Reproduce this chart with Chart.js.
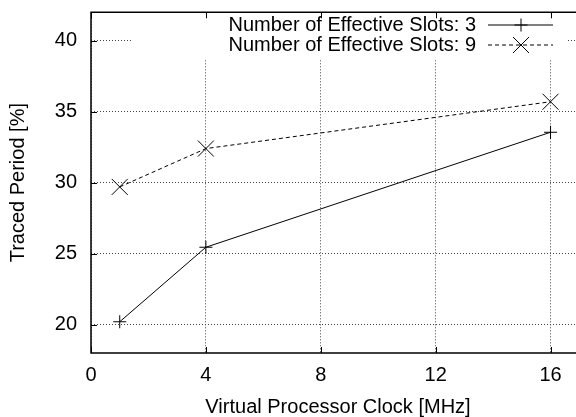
<!DOCTYPE html>
<html>
<head>
<meta charset="utf-8">
<script src="https://cdn.jsdelivr.net/npm/chart.js@4.4.0/dist/chart.umd.min.js"></script>
<style>
  html, body { margin: 0; padding: 0; background: #fff; overflow: hidden; }
  #wrap { width: 600px; height: 417px; }
</style>
</head>
<body>
<div id="wrap"><canvas id="traceChart" width="600" height="417" style="width:600px;height:417px"></canvas></div>
<script>
// values
var clocks = [1, 4, 16];
var slots3 = [20.2, 25.45, 33.55];
var slots9 = [29.7, 32.4, 35.7];
var seriesLabels = ['Number of Effective Slots: 3', 'Number of Effective Slots: 9'];
var xTicks = [0, 4, 8, 12, 16];
var yTicks = [20, 25, 30, 35, 40];

var FONT = '"Liberation Sans", Arial, sans-serif';

function pts(ys) {
    return clocks.map(function (x, i) { return { x: x, y: ys[i] }; });
}

function drawMarker(ctx, style, x, y) {
    ctx.save();
    ctx.strokeStyle = '#000';
    ctx.lineWidth = 1;
    ctx.setLineDash([]);
    ctx.beginPath();
    if (style === 'cross') {
        ctx.moveTo(x - 6.5, y); ctx.lineTo(x + 6.5, y);
        ctx.moveTo(x, y - 6.5); ctx.lineTo(x, y + 6.5);
    } else {
        ctx.moveTo(x - 8, y - 8); ctx.lineTo(x + 8, y + 8);
        ctx.moveTo(x - 8, y + 8); ctx.lineTo(x + 8, y - 8);
    }
    ctx.stroke();
    ctx.restore();
}

// gnuplot-like key box, frame and inward ticks
var framePlugin = {
    id: 'frame',
    afterDraw: function (chart) {
        var ctx = chart.ctx;
        var a = chart.chartArea;
        var xs = chart.scales.x, ys = chart.scales.y;
        ctx.save();

        // key background covers the grid
        ctx.fillStyle = '#fff';
        ctx.fillRect(132, a.top + 1, 434, 46);

        ctx.font = '20px ' + FONT;
        ctx.fillStyle = '#000';
        ctx.textAlign = 'right';
        ctx.textBaseline = 'middle';
        var rows = [25, 45];
        var styles = ['cross', 'crossRot'];
        var dashes = [[], [4, 3]];
        chart.data.datasets.forEach(function (ds, i) {
            ctx.fillText(ds.label, 476, rows[i]);
            ctx.strokeStyle = '#000';
            ctx.lineWidth = 1;
            ctx.setLineDash(dashes[i]);
            ctx.beginPath();
            ctx.moveTo(488, rows[i]);
            ctx.lineTo(553, rows[i]);
            ctx.stroke();
            drawMarker(ctx, styles[i], 521, rows[i]);
        });
        ctx.setLineDash([]);

        ctx.strokeStyle = '#000';
        ctx.lineWidth = 1;
        ctx.beginPath();
        xs.ticks.forEach(function (t) {
            var px = Math.round(xs.getPixelForValue(t.value)) + 0.5;
            ctx.moveTo(px, a.bottom); ctx.lineTo(px, a.bottom - 6);
            ctx.moveTo(px, a.top); ctx.lineTo(px, a.top + 6);
        });
        ys.ticks.forEach(function (t) {
            var py = Math.round(ys.getPixelForValue(t.value)) + 0.5;
            ctx.moveTo(a.left, py); ctx.lineTo(a.left + 6, py);
        });
        ctx.stroke();

        // frame: the right edge lies outside the picture
        ctx.lineWidth = 1.5;
        ctx.beginPath();
        ctx.moveTo(chart.width, a.top);
        ctx.lineTo(a.left, a.top);
        ctx.lineTo(a.left, a.bottom);
        ctx.lineTo(chart.width, a.bottom);
        ctx.stroke();
        ctx.restore();
    }
};

var ctx = document.getElementById('traceChart').getContext('2d');
new Chart(ctx, {
    type: 'scatter',
    data: {
        datasets: [{
            label: seriesLabels[0],
            data: pts(slots3),
            showLine: true,
            borderColor: '#000',
            borderWidth: 1,
            pointStyle: 'cross',
            pointRadius: 6.5,
            pointBorderWidth: 1,
            pointBorderColor: '#000'
        }, {
            label: seriesLabels[1],
            data: pts(slots9),
            showLine: true,
            borderColor: '#000',
            borderWidth: 1,
            borderDash: [4, 3],
            pointStyle: 'crossRot',
            pointRadius: 11.3,
            pointBorderWidth: 1,
            pointBorderColor: '#000'
        }]
    },
    options: {
        responsive: false,
        maintainAspectRatio: false,
        animation: false,
        events: [],
        layout: { padding: { top: 8, right: 15, left: 0, bottom: 0 } },
        plugins: {
            legend: { display: false },
            tooltip: { enabled: false }
        },
        scales: {
            x: {
                type: 'linear',
                min: 0,
                max: 17.2,
                afterFit: function (s) { s.height = 64; },
                afterBuildTicks: function (s) {
                    s.ticks = xTicks.map(function (v) { return { value: v }; });
                },
                ticks: { padding: 10, color: '#000', font: { family: FONT, size: 20 } },
                grid: { color: '#444', drawTicks: false, lineWidth: 1 },
                border: { display: false, dash: [1, 2] },
                title: {
                    display: true,
                    text: 'Virtual Processor Clock [MHz]',
                    color: '#000',
                    font: { family: FONT, size: 20 },
                    padding: { top: 0, bottom: -2 }
                }
            },
            y: {
                type: 'linear',
                min: 18,
                max: 42,
                afterFit: function (s) {
                    s.width = 91;
                    s.paddingTop = 0;
                    s.paddingBottom = 0;
                },
                afterBuildTicks: function (s) {
                    s.ticks = yTicks.map(function (v) { return { value: v }; });
                },
                ticks: { padding: 14, color: '#000', font: { family: FONT, size: 20 } },
                grid: { color: '#444', drawTicks: false, lineWidth: 1 },
                border: { display: false, dash: [1, 2] },
                title: {
                    display: true,
                    text: 'Traced Period [%]',
                    color: '#000',
                    font: { family: FONT, size: 20 },
                    padding: { top: 6, bottom: 0 }
                }
            }
        }
    },
    plugins: [framePlugin]
});
</script>
</body>
</html>
